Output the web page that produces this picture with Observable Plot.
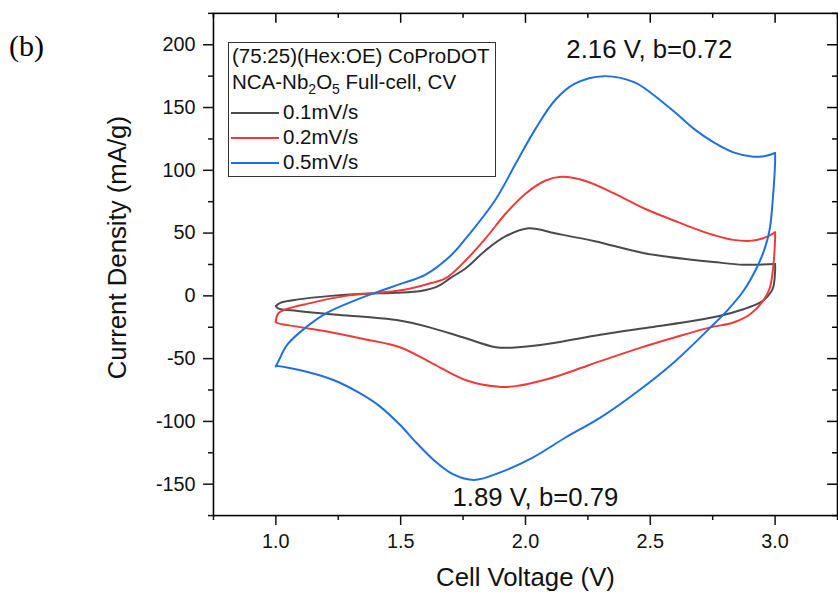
<!DOCTYPE html>
<html><head><meta charset="utf-8">
<script src="https://cdn.jsdelivr.net/npm/d3@7"></script>
<script src="https://cdn.jsdelivr.net/npm/@observablehq/plot@0.6"></script>
<style>
html,body{margin:0;padding:0;background:#fff;overflow:hidden;}
#wrap{position:relative;width:838px;height:603px;overflow:hidden;font-family:"Liberation Sans",Arial,sans-serif;}
#wrap svg{position:absolute;left:0;top:0;}
#tag{position:absolute;left:9px;top:31px;font-family:"Liberation Serif","Times New Roman",serif;font-size:30px;line-height:1;color:#000;}
#legend{position:absolute;left:228px;top:42px;width:268px;height:135px;border:1px solid #333;box-sizing:border-box;background:#fff;font-size:20.5px;color:#111;}
#legend .row{position:absolute;left:0;white-space:nowrap;line-height:1;}
#legend .sw{position:absolute;left:2px;width:48px;height:0;border-top:2px solid;}
</style></head><body><div id="wrap"><div id="tag">(b)</div></div>
<script>
// ---- data ----
const seriesNames = ["0.1mV/s", "0.2mV/s", "0.5mV/s"];
const seriesColors = ["#4a4a4a", "#ef3a3a", "#1f6fe0"];
const legendTitle1 = "(75:25)(Hex:OE) CoProDOT";
const legendTitle2 = ["NCA-Nb", "2", "O", "5", " Full-cell, CV"];
const xLabel = "Cell Voltage (V)";
const yLabel = "Current Density (mA/g)";
const annotTexts = ["2.16 V, b=0.72", "1.89 V, b=0.79"];
const annotV = [2.496, 2.04];
const annotI = [196, -161];

const xMajor = [1.0, 1.5, 2.0, 2.5, 3.0];
const xMinor = [0.75, 1.25, 1.75, 2.25, 2.75, 3.25];
const yMajor = [-150, -100, -50, 0, 50, 100, 150, 200];
const yMinor = [-175, -125, -75, -25, 25, 75, 125, 175, 225];

// 0.1 mV/s loop: anodic sweep 1.0 -> 3.0, then cathodic 3.0 -> 1.0
const v01 = [1.0, 1.02, 1.09, 1.22, 1.35, 1.48, 1.58, 1.65, 1.70, 1.762, 1.841, 1.921, 2.012, 2.119, 2.278, 2.476, 2.675, 2.754, 2.873, 3.0,
             3.0, 2.992, 2.972, 2.939, 2.873, 2.78, 2.675, 2.5, 2.3, 2.1, 1.97, 1.881, 1.749, 1.616, 1.484, 1.352, 1.219, 1.087, 1.008, 1.0];
const i01 = [-8, -5.4, -2.8, 0, 1.7, 2.5, 3.9, 7.8, 14.3, 22.2, 36.4, 47.5, 53.8, 49.8, 43.5, 34, 28.6, 27, 24.8, 25.4,
             19.6, 6.5, 0, -5.4, -10.7, -15.9, -19.8, -25, -31, -38, -41, -40.9, -33, -25.1, -19.3, -16.7, -14.6, -12, -9.9, -8];

// 0.2 mV/s loop
const v02 = [1.0, 1.013, 1.146, 1.28, 1.413, 1.52, 1.626, 1.683, 1.762, 1.841, 1.921, 2.0, 2.079, 2.143, 2.238, 2.357, 2.476, 2.595, 2.675, 2.754, 2.833, 2.9, 2.952, 3.0,
             3.0, 2.992, 2.979, 2.952, 2.9, 2.833, 2.741, 2.6, 2.45, 2.3, 2.2, 2.093, 1.96, 1.894, 1.762, 1.63, 1.497, 1.352, 1.219, 1.087, 1.0];
const i02 = [-19.8, -13.3, -5.4, 0, 2.5, 5.1, 10.4, 14.3, 28.6, 46, 65.6, 81.4, 91.7, 94.8, 91.7, 81.4, 69.6, 60, 53.8, 48.5, 44.6, 43.8, 45.9, 50.6,
             45.9, 22.2, 6.5, -4, -14.6, -21.2, -25.1, -33, -42, -52, -59, -66, -71.9, -72.4, -67.2, -54.1, -40.9, -34.3, -29, -24.5, -21.2];

// 0.5 mV/s loop
const v05 = [1.0, 1.015, 1.03, 1.048, 1.12, 1.206, 1.312, 1.418, 1.5, 1.6, 1.7, 1.762, 1.881, 1.96, 2.04, 2.119, 2.198, 2.313, 2.437, 2.5, 2.6, 2.675, 2.754, 2.833, 2.913, 2.965, 3.0,
             3.0, 2.992, 2.979, 2.959, 2.926, 2.873, 2.807, 2.741, 2.6, 2.45, 2.3, 2.159, 2.027, 1.894, 1.794, 1.709, 1.63, 1.563, 1.497, 1.418, 1.338, 1.233, 1.127, 1.0];
const i05 = [-56.1, -50.1, -44, -38.3, -25.1, -13.3, -4, 3.9, 9.5, 17, 32, 46, 77, 105, 133, 156, 169, 175, 170, 162, 146, 133, 122.2, 114.3, 110.8, 111.6, 113.8,
             106.4, 80.1, 53.8, 38, 22.2, 3.9, -11.9, -25.1, -52, -76, -97, -113, -129, -141, -146.6, -142, -130.3, -117, -102.7, -88.2, -77.7, -67.2, -60.6, -55.9];

// ---- build line table (each loop split into its anodic and cathodic branch) ----
const loops = [[v01, i01], [v02, i02], [v05, i05]];
const lineData = [];
loops.forEach(([vs, is], k) => {
  const turn = vs.indexOf(d3.max(vs));
  for (let j = 0; j <= turn; j++) lineData.push({V: vs[j], I: is[j], s: seriesNames[k], seg: k + "u"});
  for (let j = turn; j < vs.length; j++) lineData.push({V: vs[j], I: is[j], s: seriesNames[k], seg: k + "d"});
  lineData.push({V: vs[0], I: is[0], s: seriesNames[k], seg: k + "d"});
});

const W = 846, H = 603, mL = 215, mR = 1, mT = 13, mB = 83;
const innerW = W - mL - mR, innerH = H - mT - mB;

const chart = Plot.plot({
  width: W, height: H,
  marginLeft: mL, marginRight: mR, marginTop: mT, marginBottom: mB,
  style: {fontFamily: '"Liberation Sans", Arial, sans-serif', fontSize: "20px", color: "#111", background: "transparent"},
  x: {domain: [0.75, 3.25]},
  y: {domain: [-175, 225]},
  color: {domain: seriesNames, range: seriesColors},
  marks: [
    Plot.line(lineData, {x: "V", y: "I", z: "seg", stroke: "s", strokeWidth: 2, curve: "catmull-rom"}),
    Plot.text(annotTexts, {x: (d, j) => annotV[j], y: (d, j) => annotI[j], text: d => d, fontSize: 26, fill: "#111"}),
    Plot.frame({stroke: "#000", strokeWidth: 1.6}),
    Plot.axisX(xMajor, {anchor: "bottom", tickSize: 10, tickPadding: 9, tickFormat: d3.format(".1f"), label: null, fontSize: 20, strokeWidth: 1.5}),
    Plot.axisX(xMinor, {anchor: "bottom", tickSize: 5, text: null, label: null, strokeWidth: 1.5}),
    Plot.axisY(yMajor, {anchor: "left", tickSize: 10, tickPadding: 8, tickFormat: d => String(d), label: null, fontSize: 20, strokeWidth: 1.5}),
    Plot.axisY(yMinor, {anchor: "left", tickSize: 5, text: null, label: null, strokeWidth: 1.5}),
    Plot.ruleX(xMajor, {insetBottom: innerH - 10, stroke: "#000", strokeWidth: 1.5}),
    Plot.ruleX(xMinor, {insetBottom: innerH - 5, stroke: "#000", strokeWidth: 1.5}),
    Plot.ruleY(yMajor, {insetLeft: innerW - 10, stroke: "#000", strokeWidth: 1.5}),
    Plot.ruleY(yMinor, {insetLeft: innerW - 5, stroke: "#000", strokeWidth: 1.5}),
    Plot.text([xLabel], {frameAnchor: "bottom", lineAnchor: "middle", textAnchor: "middle", dy: 63, fontSize: 26, fill: "#111"}),
    Plot.text([yLabel], {frameAnchor: "left", rotate: -90, textAnchor: "middle", lineAnchor: "middle", dx: -97, dy: -17, fontSize: 26, fill: "#111"})
  ]
});
const wrap = document.getElementById("wrap");
wrap.insertBefore(chart, wrap.firstChild);

// ---- legend ----
const lg = document.createElement("div");
lg.id = "legend";
const r1 = document.createElement("div");
r1.className = "row"; r1.style.left = "3px"; r1.style.top = "3px"; r1.textContent = legendTitle1;
lg.appendChild(r1);
const r2 = document.createElement("div");
r2.className = "row"; r2.style.left = "3px"; r2.style.top = "29px";
r2.innerHTML = legendTitle2[0] + "<sub style='font-size:14px;vertical-align:-5px'>" + legendTitle2[1] + "</sub>" + legendTitle2[2] + "<sub style='font-size:14px;vertical-align:-5px'>" + legendTitle2[3] + "</sub>" + legendTitle2[4];
lg.appendChild(r2);
const rowTops = [59, 84, 109];
seriesNames.forEach((n, k) => {
  const sw = document.createElement("div");
  sw.className = "sw"; sw.style.borderColor = seriesColors[k]; sw.style.top = (rowTops[k] + 10) + "px";
  lg.appendChild(sw);
  const t = document.createElement("div");
  t.className = "row"; t.style.left = "54px"; t.style.top = rowTops[k] + "px"; t.textContent = n;
  lg.appendChild(t);
});
wrap.appendChild(lg);
</script></body></html>
